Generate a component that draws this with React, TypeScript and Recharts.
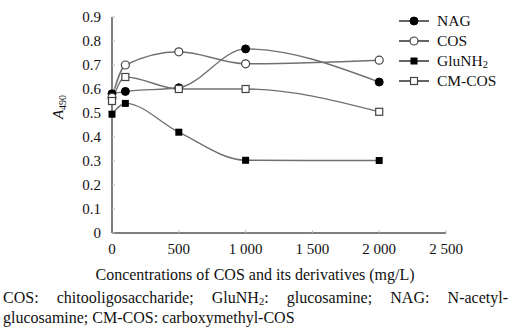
import React from "react";
import { LineChart, Line, XAxis, YAxis } from "recharts";

const concentrations = [0, 100, 500, 1000, 2000];
const nagValues = [0.58, 0.59, 0.605, 0.767, 0.629];
const cosValues = [0.565, 0.7, 0.755, 0.705, 0.72];
const gluValues = [0.495, 0.54, 0.42, 0.303, 0.302];
const cmcosValues = [0.55, 0.65, 0.6, 0.6, 0.505];

const xTicks = [0, 500, 1000, 1500, 2000, 2500];
const xTickLabels = ["0", "500", "1 000", "1 500", "2 000", "2 500"];
const yTicks = [0, 0.1, 0.2, 0.3, 0.4, 0.5, 0.6, 0.7, 0.8, 0.9];
const yTickLabels = ["0", "0.1", "0.2", "0.3", "0.4", "0.5", "0.6", "0.7", "0.8", "0.9"];

const seriesNames = ["NAG", "COS", "GluNH2", "CM-COS"];

const data = concentrations.map((c, i) => ({
  c,
  NAG: nagValues[i],
  COS: cosValues[i],
  GluNH2: gluValues[i],
  CMCOS: cmcosValues[i],
}));

const FONT = '"Liberation Serif", "Times New Roman", serif';
const LINE_COLOR = "#707070";

type Shape = "filledCircle" | "openCircle" | "filledSquare" | "openSquare";

function Marker({ cx, cy, shape }: { cx: number; cy: number; shape: Shape }) {
  if (shape === "filledCircle") return <circle cx={cx} cy={cy} r={4} fill="#000" stroke="#000" />;
  if (shape === "openCircle") return <circle cx={cx} cy={cy} r={4} fill="#fff" stroke="#444" strokeWidth={1.2} />;
  if (shape === "filledSquare") return <rect x={cx - 3.5} y={cy - 3.5} width={7} height={7} fill="#000" />;
  return <rect x={cx - 3.5} y={cy - 3.5} width={7} height={7} fill="#fff" stroke="#444" strokeWidth={1.2} />;
}

const makeDot = (shape: Shape) => (props: any) => {
  if (props.cx == null || props.cy == null) return <g key={props.index} />;
  return (
    <g key={`${shape}-${props.index}`}>
      <Marker cx={props.cx} cy={props.cy} shape={shape} />
    </g>
  );
};

const legendItems: { name: string; shape: Shape; sub?: string }[] = [
  { name: "NAG", shape: "filledCircle" },
  { name: "COS", shape: "openCircle" },
  { name: "GluNH", shape: "filledSquare", sub: "2" },
  { name: "CM-COS", shape: "openSquare" },
];

const subStyle: React.CSSProperties = { fontSize: 10.5, verticalAlign: "-2px", lineHeight: 0 };

export default function App() {
  return (
    <div style={{ position: "absolute", left: 0, top: 0, width: 517, height: 332, background: "#fff", fontFamily: FONT }}>
      <style>{`.recharts-wrapper text, .recharts-wrapper tspan { font-family: "Liberation Serif", "Times New Roman", serif !important; }`}</style>
      <LineChart
        width={517}
        height={332}
        data={data}
        margin={{ top: 17, right: 71, left: 52, bottom: 69 }}
        style={{ fontFamily: FONT }}
      >
        <XAxis
          dataKey="c"
          type="number"
          domain={[0, 2500]}
          ticks={xTicks}
          tickFormatter={(v: number) => xTickLabels[xTicks.indexOf(v)] ?? String(v)}
          tick={{ fill: "#111", fontSize: 15, fontFamily: FONT }}
          axisLine={{ stroke: "#555", strokeWidth: 1.5 }}
          tickLine={{ stroke: "#bbb" }}
          tickSize={-3}
          tickMargin={13}
          height={30}
          interval={0}
          label={{
            value: "Concentrations of COS and its derivatives (mg/L)",
            position: "insideBottom",
            offset: -17,
            dx: -24,
            style: { fill: "#111", fontSize: 16, fontFamily: FONT },
          }}
        />
        <YAxis
          type="number"
          domain={[0, 0.9]}
          ticks={yTicks}
          tickFormatter={(v: number) => yTickLabels[yTicks.findIndex((t) => Math.abs(t - v) < 1e-9)] ?? String(v)}
          tick={{ fill: "#111", fontSize: 15, fontFamily: FONT }}
          axisLine={{ stroke: "#555", strokeWidth: 1.5 }}
          tickLine={{ stroke: "#bbb" }}
          tickSize={-3}
          tickMargin={14}
          width={60}
          interval={0}
        />
        <Line type="monotone" dataKey="NAG" name={seriesNames[0]} stroke={LINE_COLOR} strokeWidth={1.4} dot={makeDot("filledCircle")} isAnimationActive={false} />
        <Line type="monotone" dataKey="COS" name={seriesNames[1]} stroke={LINE_COLOR} strokeWidth={1.4} dot={makeDot("openCircle")} isAnimationActive={false} />
        <Line type="monotone" dataKey="GluNH2" name={seriesNames[2]} stroke={LINE_COLOR} strokeWidth={1.4} dot={makeDot("filledSquare")} isAnimationActive={false} />
        <Line type="monotone" dataKey="CMCOS" name={seriesNames[3]} stroke={LINE_COLOR} strokeWidth={1.4} dot={makeDot("openSquare")} isAnimationActive={false} />
      </LineChart>

      <svg style={{ position: "absolute", left: 40, top: 80 }} width={30} height={60}>
        <text
          x={0}
          y={0}
          transform="translate(23 27) rotate(-90)"
          textAnchor="middle"
          fontFamily={FONT}
          fontSize={15}
          fill="#111"
        >
          <tspan fontStyle="italic">A</tspan>
          <tspan fontSize={10} dy={3}>490</tspan>
        </text>
      </svg>

      <div style={{ position: "absolute", left: 398, top: 11 }}>
        {legendItems.map((it) => (
          <div key={it.name} style={{ display: "flex", alignItems: "center", height: 20 }}>
            <svg width={34} height={12} style={{ marginRight: 5 }}>
              <line x1={1} y1={6} x2={31} y2={6} stroke="#111" strokeWidth={1.3} />
              <Marker cx={16} cy={6} shape={it.shape} />
            </svg>
            <span style={{ fontSize: 15.5, color: "#111", fontFamily: FONT, lineHeight: "20px" }}>
              {it.name}
              {it.sub ? <sub style={subStyle}>{it.sub}</sub> : null}
            </span>
          </div>
        ))}
      </div>

      <div
        style={{
          position: "absolute",
          left: 3,
          top: 288,
          width: 505,
          fontSize: 16,
          lineHeight: "20px",
          color: "#111",
          fontFamily: FONT,
        }}
      >
        <div style={{ display: "flex", justifyContent: "space-between", height: 20 }}>
          <span>COS:</span>
          <span>chitooligosaccharide;</span>
          <span>
            GluNH<sub style={subStyle}>2</sub>:
          </span>
          <span>glucosamine;</span>
          <span>NAG:</span>
          <span>N-acetyl-</span>
        </div>
        <div style={{ height: 20 }}>glucosamine; CM-COS: carboxymethyl-COS</div>
      </div>
    </div>
  );
}
